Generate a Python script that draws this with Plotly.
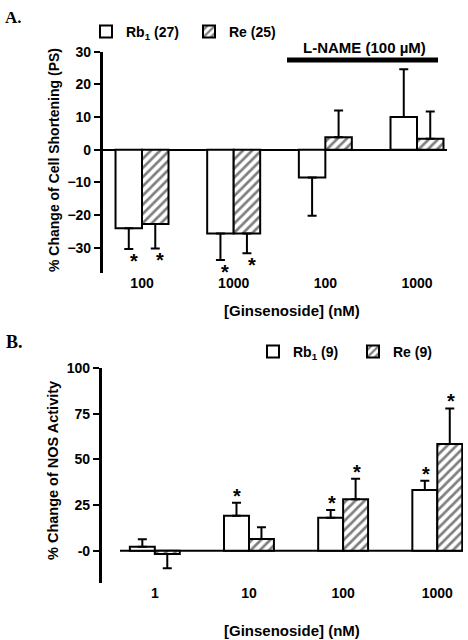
import plotly.graph_objects as go

# ---------------- data ----------------
groups_a = ["100", "1000", "100", "1000"]
rb1_a = [-24.0, -25.6, -8.5, 10.0]
rb1_a_err = [6.4, 8.1, 11.7, 14.6]
re_a = [-22.7, -25.6, 3.8, 3.4]
re_a_err = [7.5, 6.1, 8.2, 8.3]
sig_rb1_a = [True, True, False, False]
sig_re_a = [True, True, False, False]

groups_b = ["1", "10", "100", "1000"]
rb1_b = [2.2, 19.2, 18.1, 33.3]
rb1_b_err = [4.0, 7.1, 4.2, 5.1]
re_b = [-1.8, 6.4, 28.2, 58.5]
re_b_err = [7.8, 6.4, 11.3, 19.5]
sig_rb1_b = [False, True, True, True]
sig_re_b = [False, False, True, True]

yticks_a = [-30, -20, -10, 0, 10, 20, 30]
yticks_b = [0, 25, 50, 75, 100]
yticktext_b = ["-0", "25", "50", "75", "100"]

W, H = 468, 640
FONT = "Liberation Sans, Arial, sans-serif"
SERIF = "Liberation Serif, Times New Roman, serif"


def px(x):
    return x / W


def py(y):
    return 1 - y / H


def err_split(vals, errs):
    plus = [e if v >= 0 else 0 for v, e in zip(vals, errs)]
    minus = [e if v < 0 else 0 for v, e in zip(vals, errs)]
    return plus, minus


fig = go.Figure()

bw_a = 0.289
bw_b = 0.265
xs = list(range(4))


def add_bars(vals, errs, name, hatched, xa, ya, bw, offset, legend):
    plus, minus = err_split(vals, errs)
    marker = dict(color="white", line=dict(color="black", width=2))
    if hatched:
        marker["pattern"] = dict(shape="/", fgcolor="black", bgcolor="white",
                                 size=6.5, solidity=0.42)
    fig.add_trace(go.Bar(
        x=xs, y=vals, width=bw, offset=offset, name=name,
        xaxis=xa, yaxis=ya, marker=marker, legend=legend,
        error_y=dict(type="data", symmetric=False, array=plus, arrayminus=minus,
                     color="black", thickness=2, width=4.5),
    ))


add_bars(rb1_a, rb1_a_err, "Rb<sub>1</sub> (27)", False, "x", "y", bw_a, -bw_a, "legend")
add_bars(re_a, re_a_err, "Re (25)", True, "x", "y", bw_a, 0, "legend")
add_bars(rb1_b, rb1_b_err, "Rb<sub>1</sub> (9)", False, "x2", "y2", bw_b, -bw_b, "legend2")
add_bars(re_b, re_b_err, "Re (9)", True, "x2", "y2", bw_b, 0, "legend2")

ann = []
star_font = dict(family=FONT, size=20, weight="bold", color="black")
# asterisks panel A (below error bars, slightly right)
for i in xs:
    if sig_rb1_a[i]:
        ann.append(dict(x=i - bw_a / 2, y=rb1_a[i] - rb1_a_err[i], xref="x", yref="y",
                        text="*", showarrow=False, xshift=5, xanchor="center",
                        yanchor="top", yshift=1, font=star_font))
    if sig_re_a[i]:
        ann.append(dict(x=i + bw_a / 2, y=re_a[i] - re_a_err[i], xref="x", yref="y",
                        text="*", showarrow=False, xshift=5, xanchor="center",
                        yanchor="top", yshift=1, font=star_font))
# asterisks panel B (above error bars)
for i in xs:
    if sig_rb1_b[i]:
        ann.append(dict(x=i - bw_b / 2, y=rb1_b[i] + rb1_b_err[i], xref="x2", yref="y2",
                        text="*", showarrow=False, xanchor="center", yanchor="bottom",
                        yshift=-6, xshift=1, font=star_font))
    if sig_re_b[i]:
        ann.append(dict(x=i + bw_b / 2, y=re_b[i] + re_b_err[i], xref="x2", yref="y2",
                        text="*", showarrow=False, xanchor="center", yanchor="bottom",
                        yshift=-6, xshift=1, font=star_font))

lfont = dict(family=FONT, size=14, weight="bold", color="black")
bigfont = dict(family=FONT, size=15, weight="bold", color="black")


def pann(x, y, text, font, **kw):
    d = dict(x=px(x), y=py(y), xref="paper", yref="paper", text=text,
             showarrow=False, font=font, xanchor="center", yanchor="middle")
    d.update(kw)
    return d


ann += [
    pann(3, 6, "A.", dict(family=SERIF, size=17, weight="bold", color="black"),
         xanchor="left", yanchor="top"),
    pann(4, 330, "B.", dict(family=SERIF, size=18, weight="bold", color="black"),
         xanchor="left", yanchor="top"),
    pann(54, 160, "% Change of Cell Shortening (PS)",
         dict(family=FONT, size=14, weight="bold", color="black"), textangle=-90),
    pann(53, 471, "% Change of NOS Activity",
         dict(family=FONT, size=14.5, weight="bold", color="black"), textangle=-90),
    pann(292, 310, "[Ginsenoside] (nM)", bigfont),
    pann(292, 630, "[Ginsenoside] (nM)", bigfont),
    pann(364, 47, "L-NAME (100 µM)", bigfont),
]

shapes = [
    dict(type="line", xref="paper", yref="paper", x0=px(287), x1=px(438),
         y0=py(60), y1=py(60), line=dict(color="black", width=5)),
    dict(type="line", xref="x2", yref="y2", x0=-0.37, x1=3.273, y0=0, y1=0,
         line=dict(color="black", width=2), layer="below"),
]

tickfont = dict(family=FONT, size=14, weight="bold", color="black")
axis_common = dict(showgrid=False, color="black", tickfont=tickfont)

fig.update_layout(
    width=W, height=H, autosize=False,
    margin=dict(l=0, r=0, t=0, b=0, autoexpand=False),
    paper_bgcolor="white", plot_bgcolor="white",
    barmode="overlay", showlegend=True,
    xaxis=dict(domain=[px(102.7), px(446.7)], range=[-0.429, 3.324],
               tickvals=xs, ticktext=groups_a, ticks="", showline=False,
               zeroline=False, anchor="y", **axis_common),
    yaxis=dict(domain=[py(273.3), py(51.7)], range=[-37.8, 30],
               tickvals=yticks_a, ticks="outside", ticklen=6, tickwidth=2,
               showline=True, linewidth=2.5, linecolor="black",
               zeroline=True, zerolinewidth=2, zerolinecolor="black",
               anchor="x", **axis_common),
    xaxis2=dict(domain=[px(101.7), px(463)], range=[-0.564, 3.273],
                tickvals=xs, ticktext=groups_b, ticks="", showline=False,
                zeroline=False, anchor="y2", **axis_common),
    yaxis2=dict(domain=[py(583.3), py(368.3)], range=[-17.9, 100],
                tickvals=yticks_b, ticktext=yticktext_b, ticks="outside",
                ticklen=6, tickwidth=2, showline=True, linewidth=2.5,
                linecolor="black", zeroline=False, anchor="x2", **axis_common),
    legend=dict(orientation="h", x=px(86), y=py(32), xanchor="left", yanchor="middle",
                entrywidth=58, entrywidthmode="pixels", bgcolor="rgba(0,0,0,0)",
                font=lfont),
    legend2=dict(orientation="h", x=px(253), y=py(352), xanchor="left", yanchor="middle",
                 entrywidth=55, entrywidthmode="pixels", bgcolor="rgba(0,0,0,0)",
                 font=lfont),
    annotations=ann, shapes=shapes,
)

fig.write_html("out.html", config={"displayModeBar": False},
               post_script="document.body.style.margin='0';")
